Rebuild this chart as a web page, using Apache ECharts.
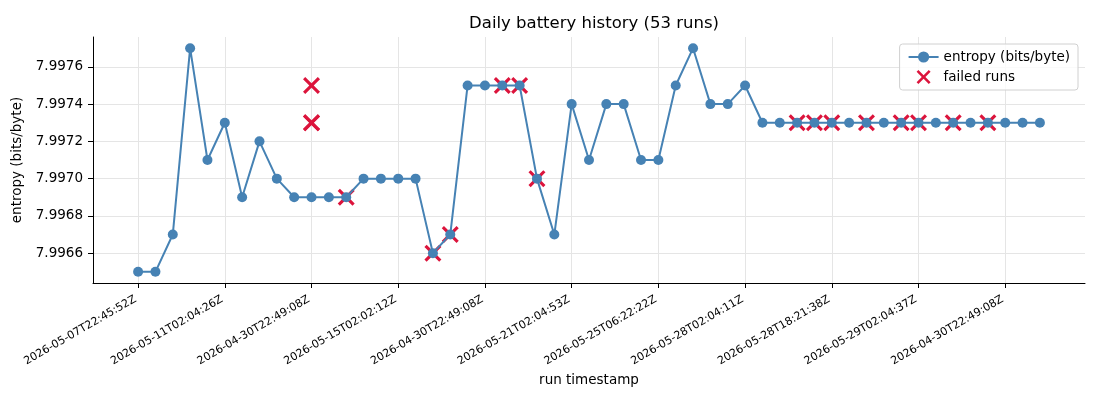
<!DOCTYPE html>
<html>
<head>
<meta charset="utf-8">
<script src="https://cdn.jsdelivr.net/npm/echarts@6/dist/echarts.min.js"></script>
<style>
  html, body { margin: 0; padding: 0; background: #fff; }
  #chart { width: 1100px; height: 400px; }
</style>
</head>
<body>
<div id="chart"></div>
<script>
// run index -> entropy reading
var entropy = [
	7.9965, 7.9965, 7.9967, 7.9977, 7.9971, 7.9973, 7.9969, 7.9972, 7.9970, 7.9969,
	7.9969, 7.9969, 7.9969, 7.9970, 7.9970, 7.9970, 7.9970, 7.9966, 7.9967, 7.9975,
	7.9975, 7.9975, 7.9975, 7.9970, 7.9967, 7.9974, 7.9971, 7.9974, 7.9974, 7.9971,
	7.9971, 7.9975, 7.9977, 7.9974, 7.9974, 7.9975, 7.9973, 7.9973, 7.9973, 7.9973,
	7.9973, 7.9973, 7.9973, 7.9973, 7.9973, 7.9973, 7.9973, 7.9973, 7.9973, 7.9973,
	7.9973, 7.9973, 7.9973
];
// failed runs: index and value
var failedIdx = [10, 10, 10, 12, 17, 18, 21, 22, 23, 38, 39, 40, 42, 44, 45, 47, 49];
var failedVal = [7.9975, 7.9973, 7.9973, 7.9969, 7.9966, 7.9967, 7.9975, 7.9975, 7.9970,
	7.9973, 7.9973, 7.9973, 7.9973, 7.9973, 7.9973, 7.9973, 7.9973];
// x tick positions and labels
var tickIdx = [0, 5, 10, 15, 20, 25, 30, 35, 40, 45, 50];
var tickLabels = [
	'2026-05-07T22:45:52Z', '2026-05-11T02:04:26Z', '2026-04-30T22:49:08Z',
	'2026-05-15T02:02:12Z', '2026-04-30T22:49:08Z', '2026-05-21T02:04:53Z',
	'2026-05-25T06:22:22Z', '2026-05-28T02:04:11Z', '2026-05-28T18:21:38Z',
	'2026-05-29T02:04:37Z', '2026-04-30T22:49:08Z'
];
var yTicks = [7.9966, 7.9968, 7.9970, 7.9972, 7.9974, 7.9976];

var font = 'DejaVu Sans';
var xMark = 'path://M0,2.6 L2.6,0 L10,7.4 L17.4,0 L20,2.6 L12.6,10 L20,17.4 L17.4,20 L10,12.6 L2.6,20 L0,17.4 L7.4,10 Z';

var lineData = entropy.map(function (v, i) { return [i, v]; });
var failData = failedIdx.map(function (x, i) { return [x, failedVal[i]]; });

var option = {
	animation: false,
	textStyle: { fontFamily: font },
	title: {
		text: 'Daily battery history (53 runs)',
		left: 589,
		textAlign: 'center',
		top: 10,
		textStyle: { fontFamily: font, fontSize: 16.5, fontWeight: 'normal', color: '#000' }
	},
	legend: {
		orient: 'vertical',
		right: 22,
		top: 44,
		padding: [6, 8, 6, 8],
		itemGap: 6,
		itemWidth: 30,
		itemHeight: 14,
		borderColor: '#d0d0d0',
		borderWidth: 1,
		borderRadius: 3,
		backgroundColor: 'rgba(255,255,255,0.8)',
		textStyle: { fontFamily: font, fontSize: 13.5, color: '#000' },
		data: [
			{ name: 'entropy (bits/byte)' },
			{ name: 'failed runs', icon: xMark, itemStyle: { color: '#dc143c' } }
		]
	},
	grid: { left: 93, right: 15, top: 37, bottom: 117 },
	xAxis: {
		type: 'value',
		min: -2.6,
		max: 54.6,
		name: 'run timestamp',
		nameLocation: 'middle',
		nameGap: 87,
		nameTextStyle: { fontFamily: font, fontSize: 13.5, color: '#000' },
		axisLine: { onZero: false, lineStyle: { color: '#000', width: 1 } },
		axisTick: { show: true, inside: false, length: 5, customValues: tickIdx, lineStyle: { color: '#000' } },
		axisLabel: {
			customValues: tickIdx,
			rotate: 30,
			margin: 14,
			padding: [0, 3, 0, 0],
			fontFamily: font,
			fontSize: 11,
			color: '#000',
			formatter: function (v) {
				var k = tickIdx.indexOf(Math.round(v));
				return k >= 0 ? tickLabels[k] : '';
			}
		},
		splitLine: { show: true, lineStyle: { color: '#e5e5e5', width: 1 } }
	},
	yAxis: {
		type: 'value',
		min: 7.99644,
		max: 7.99776,
		name: 'entropy (bits/byte)',
		nameLocation: 'middle',
		nameGap: 63,
		nameRotate: 90,
		nameTextStyle: { fontFamily: font, fontSize: 13.5, color: '#000' },
		axisLine: { show: true, onZero: false, lineStyle: { color: '#000', width: 1 } },
		axisTick: { show: true, inside: false, length: 5, customValues: yTicks, lineStyle: { color: '#000' } },
		axisLabel: {
			customValues: yTicks,
			margin: 10,
			fontFamily: font,
			fontSize: 13.5,
			color: '#000',
			formatter: function (v) { return v.toFixed(4); }
		},
		splitLine: { show: true, lineStyle: { color: '#e5e5e5', width: 1 } }
	},
	series: [
		{
			name: 'failed runs',
			type: 'scatter',
			data: failData,
			symbol: xMark,
			symbolSize: 17,
			itemStyle: { color: '#dc143c', opacity: 1 },
			z: 2
		},
		{
			name: 'entropy (bits/byte)',
			type: 'line',
			data: lineData,
			symbol: 'circle',
			symbolSize: 10,
			showSymbol: true,
			lineStyle: { color: '#4682b4', width: 2 },
			itemStyle: { color: '#4682b4', borderWidth: 0 },
			z: 3
		}
	]
};

var chart = echarts.init(document.getElementById('chart'));
chart.setOption(option);
</script>
</body>
</html>
